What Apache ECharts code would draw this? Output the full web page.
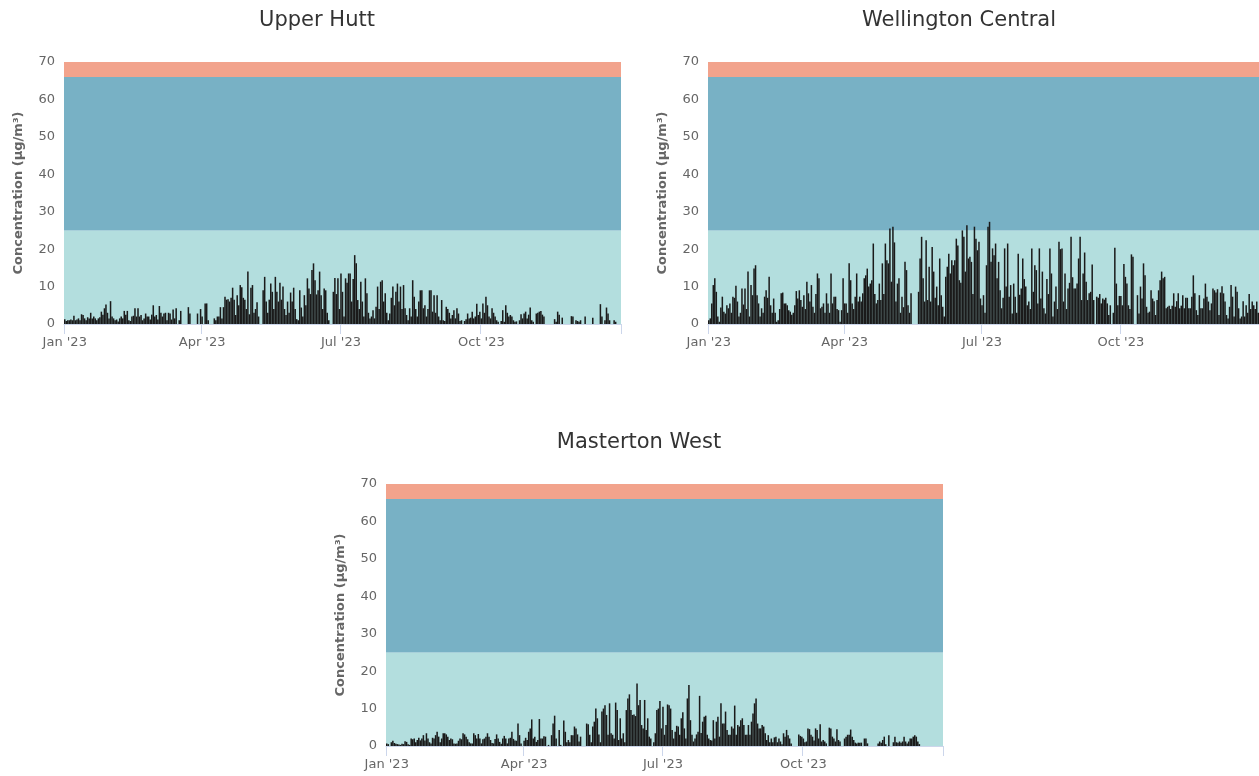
<!DOCTYPE html>
<html>
<head>
<meta charset="utf-8">
<script src="https://cdn.jsdelivr.net/npm/echarts@6/dist/echarts.min.js"></script>
<style>
html,body{margin:0;padding:0;background:#fff;}
#chart{width:1259px;height:776px;}
</style>
</head>
<body>
<div id="chart"></div>
<script>
// ---- Data (daily PM concentration, µg/m³, 2023) ----
const siteNames = ['Upper Hutt', 'Wellington Central', 'Masterton West'];
const yTicks = [0, 10, 20, 30, 40, 50, 60, 70];
const quarterLabels = { '2023-01-01': "Jan '23", '2023-04-01': "Apr '23", '2023-07-01': "Jul '23", '2023-10-01': "Oct '23" };
const bands = [
  { from: 0, to: 25, color: '#b3dede' },
  { from: 25, to: 66, color: '#78b1c5' },
  { from: 66, to: 70, color: '#f2a38c' }
];

const upperHutt = [
  // Jan
  1.3,0.8,1.0,1.0,1.2,1.0,2.2,1.0,1.2,1.5,1.0,2.6,2.4,1.5,1.0,1.8,1.5,3.0,1.5,2.0,1.5,1.0,1.5,1.8,3.3,2.5,4.2,5.2,3.0,1.5,6.1,
  // Feb
  2.0,1.5,1.0,1.2,0.7,1.5,2.0,1.5,3.5,2.5,3.5,1.0,0.8,2.0,2.2,4.2,2.0,4.2,2.0,2.4,1.0,1.5,2.8,2.0,2.0,1.2,2.5,5.0,
  // Mar
  2.0,2.4,1.2,4.8,3.0,2.0,2.8,3.0,1.0,3.0,2.8,1.2,3.9,1.5,4.2,null,1.0,3.5,null,null,null,null,4.5,2.8,null,null,null,null,2.8,null,4.0,
  // Apr
  2.0,null,5.5,5.5,1.0,null,null,null,1.5,1.0,2.0,2.0,4.5,1.5,4.5,7.3,6.5,6.6,6.0,7.0,9.7,6.5,2.4,7.7,5.0,10.4,9.8,7.0,6.5,4.0,
  // May
  14.0,2.6,9.7,10.4,3.0,4.0,5.8,2.0,null,null,9.0,12.6,6.0,3.0,6.5,10.8,8.6,4.0,12.6,8.6,6.0,11.0,6.5,10.0,4.0,2.4,6.0,3.0,8.4,6.0,9.7,
  // Jun
  4.0,1.3,1.0,9.0,4.4,2.0,7.7,5.0,12.2,9.5,8.0,14.4,16.2,11.7,7.9,9.0,14.0,7.7,4.0,9.5,9.0,3.0,1.0,null,null,8.6,12.3,8.0,12.2,4.0,
  // Jul
  13.5,8.6,2.0,12.2,11.0,13.5,13.5,6.0,12.0,18.4,16.2,6.4,4.0,11.3,6.0,2.0,12.2,8.2,3.0,1.5,2.0,3.7,1.5,4.6,10.0,4.0,11.3,11.7,6.0,8.2,3.0,
  // Aug
  1.0,2.8,7.0,10.0,5.0,8.6,10.8,6.0,10.0,4.0,10.4,4.2,2.4,1.0,4.2,2.0,11.7,7.3,4.0,2.0,6.0,9.0,9.0,4.2,5.0,2.0,4.0,9.0,9.0,3.3,7.7,
  // Sep
  3.0,7.7,2.0,1.0,6.4,1.0,0.8,4.6,4.0,3.0,1.5,2.4,3.7,1.5,4.2,2.8,0.8,1.0,null,0.8,1.3,2.8,1.5,1.7,3.3,1.5,2.0,5.4,2.4,3.3,
  // Oct
  1.5,5.5,3.0,7.3,5.0,2.0,1.5,4.2,3.0,2.0,1.0,0.6,null,0.8,3.7,0.6,5.0,3.0,2.0,2.4,2.0,1.0,0.6,0.7,null,1.0,2.6,1.5,2.8,3.3,1.5,
  // Nov
  2.5,4.4,1.0,0.6,null,2.8,3.0,3.3,3.5,2.5,2.0,null,null,null,null,null,null,1.3,0.6,3.3,2.5,null,1.7,null,null,null,null,null,2.1,2.0,
  // Dec
  null,1.0,0.8,0.6,1.0,null,null,2.0,null,null,null,null,1.7,null,null,null,null,5.3,2.0,null,1.0,4.4,2.8,1.0,null,null,1.0,0.6,null,null,null
];

const wellingtonCentral = [
  // Jan
  1.0,1.5,5.5,10.4,12.2,8.6,2.0,0.6,4.4,7.3,3.3,2.8,5.0,4.2,5.5,3.0,7.3,7.0,10.2,6.0,2.0,3.0,9.5,5.2,9.5,4.0,14.0,2.0,10.4,7.7,14.8,
  // Feb
  15.7,7.7,5.5,2.0,4.2,3.0,7.3,9.0,7.0,12.6,5.0,3.0,6.8,3.0,0.6,1.0,4.0,8.2,8.4,5.5,5.5,5.0,3.7,3.3,2.5,3.0,5.0,8.8,
  // Mar
  6.8,9.0,6.4,4.6,7.7,4.0,11.3,8.2,6.0,10.4,4.6,3.0,8.0,13.5,12.2,4.2,4.6,5.5,3.0,8.2,5.5,3.0,13.5,5.5,7.3,7.3,4.0,3.7,0.6,3.7,12.2,
  // Apr
  5.5,5.5,3.0,16.2,11.7,5.5,4.0,7.3,13.5,6.0,7.3,6.0,8.2,12.2,13.0,14.8,10.0,10.8,11.7,21.5,8.0,5.5,6.4,10.8,6.4,16.2,8.0,21.5,17.0,16.2,
  // May
  25.5,11.3,26.0,21.8,6.0,10.8,12.2,3.0,7.3,4.5,16.6,14.4,5.0,3.0,8.2,null,null,null,null,8.6,17.5,23.3,12.2,6.0,22.4,6.4,15.3,6.0,20.6,14.0,7.0,
  // Jun
  10.0,5.0,17.5,7.7,4.6,2.0,12.6,15.3,18.8,13.5,17.0,15.7,17.0,22.8,21.0,11.7,11.0,25.0,23.3,14.0,26.4,17.5,18.0,16.6,8.0,26.0,22.8,19.7,22.0,6.8,
  // Jul
  5.0,7.7,3.0,15.7,26.0,27.3,16.6,20.2,18.4,21.5,12.2,16.6,9.0,4.2,7.0,20.2,10.0,21.5,7.3,10.4,2.8,10.8,7.3,3.0,18.8,7.8,9.5,17.5,12.0,10.0,5.0,
  // Aug
  6.0,4.0,20.2,8.6,15.7,14.4,5.5,20.2,6.8,14.0,4.2,2.8,12.0,8.0,20.2,13.5,2.0,6.0,10.0,4.0,22.0,20.0,20.2,6.0,13.5,4.0,9.5,11.0,23.3,12.5,9.5,
  // Sep
  9.5,10.8,17.5,23.3,6.4,13.5,19.1,11.3,6.4,8.2,8.6,15.9,6.4,null,7.3,7.0,8.0,5.5,6.8,6.5,7.0,5.5,2.4,5.0,null,3.0,20.4,10.8,5.0,7.5,
  // Oct
  7.5,5.0,16.0,12.6,10.8,5.0,4.0,18.6,18.0,null,null,7.7,2.8,10.0,6.8,16.2,13.0,4.6,3.0,3.3,9.0,6.8,6.1,2.4,6.4,9.0,11.7,14.0,12.2,12.6,4.2,
  // Nov
  4.6,4.9,4.0,4.9,8.2,4.6,6.1,8.2,4.2,4.9,7.7,4.2,7.0,7.0,4.2,4.2,7.3,13.0,8.2,3.7,2.4,7.7,4.2,4.2,6.8,10.8,7.3,6.0,3.7,5.5,
  // Dec
  9.5,9.0,8.4,9.3,2.4,8.4,10.1,8.2,6.0,2.4,1.5,4.6,10.4,7.3,2.0,10.0,8.6,4.2,1.5,2.0,6.1,2.0,5.0,3.0,8.0,4.0,6.0,5.0,4.0,6.0,3.0
];

const mastertonWest = [
  // Jan
  0.7,0.5,null,1.0,1.4,0.8,0.6,0.5,0.4,0.3,0.6,0.5,1.3,1.1,0.5,0.3,2.0,1.8,2.0,1.0,1.6,2.2,1.5,2.0,2.9,1.5,3.4,2.0,1.0,0.7,2.2,
  // Feb
  2.0,2.9,3.8,2.5,1.0,2.0,3.4,3.4,3.1,2.5,1.6,2.0,1.8,0.7,0.6,0.7,1.4,2.0,1.8,3.4,3.1,2.5,1.8,1.0,0.7,0.7,3.4,2.9,
  // Mar
  2.0,3.2,2.0,0.7,1.8,2.0,2.5,3.4,2.5,1.6,0.8,0.7,1.9,3.1,2.0,1.1,0.6,2.0,2.7,2.0,0.7,2.0,2.2,3.8,1.9,1.5,1.4,6.0,2.9,0.7,null,
  // Apr
  1.4,2.2,1.6,3.8,4.7,7.1,2.0,2.5,1.1,1.6,7.2,2.0,2.0,2.6,2.5,null,0.3,null,2.9,6.0,8.1,2.0,null,4.3,0.3,null,6.8,3.8,1.0,1.6,
  // May
  1.0,2.9,2.9,5.2,4.7,3.1,1.2,2.5,null,null,null,6.0,5.8,3.0,1.0,5.2,6.5,10.0,7.4,3.1,1.0,9.2,10.0,10.9,8.3,3.0,11.4,3.4,3.0,2.0,11.6,
  // Jun
  9.6,1.6,7.4,2.0,3.4,1.0,9.6,12.7,13.8,9.6,8.3,8.4,8.0,16.7,10.9,12.3,5.6,4.7,12.3,4.3,7.4,2.5,2.0,null,1.0,3.4,9.6,10.0,12.0,4.7,
  // Jul
  10.5,3.0,5.6,11.1,10.9,10.0,4.3,2.0,3.8,5.4,5.2,3.0,7.4,9.0,4.7,2.0,12.7,16.3,6.9,3.0,1.2,2.0,3.1,3.8,13.4,3.5,6.5,7.8,8.1,3.0,2.0,
  // Aug
  1.6,1.5,6.9,2.0,6.5,7.8,2.5,11.4,6.0,6.0,9.2,4.3,3.0,3.0,5.2,4.7,10.8,3.0,5.6,5.2,6.9,7.4,5.6,3.0,3.0,5.6,3.0,6.5,8.7,11.4,12.7,
  // Sep
  6.0,4.7,4.7,5.6,5.2,3.4,1.6,2.9,1.0,2.0,1.0,2.3,2.5,1.0,2.0,1.2,0.5,3.4,2.5,4.3,2.9,2.0,0.7,null,null,null,null,3.1,2.7,2.5,
  // Oct
  2.0,1.0,1.2,4.7,4.5,3.0,2.5,1.5,4.7,4.3,2.0,5.8,1.2,1.6,1.2,0.7,null,4.9,4.7,2.5,2.0,1.2,4.5,1.6,1.2,null,null,2.0,2.5,3.0,3.0,
  // Nov
  4.4,2.5,1.6,0.9,0.7,0.9,0.9,0.9,null,2.0,2.0,0.7,null,null,null,null,null,null,0.7,1.2,0.9,1.6,2.5,0.5,null,2.9,null,null,1.0,2.5,
  // Dec
  1.0,0.9,1.2,0.9,1.2,2.5,1.2,0.7,1.2,2.0,2.0,2.5,2.9,2.5,1.2,0.5,null,null,null,null,null,null,null,null,null,null,null,null,null,null,null
];

// category list: every day of 2023
const days = [];
for (let i = 0; i < 365; i++) {
  const d = new Date(Date.UTC(2023, 0, 1 + i));
  days.push(d.toISOString().slice(0, 10));
}

const seriesData = [upperHutt, wellingtonCentral, mastertonWest];

// ---- Layout ----
const FONT = 'DejaVu Sans';
const panels = [
  { left: 64, top: 62, titleX: 312, titleTop: 5 },
  { left: 708, top: 62, titleX: 954, titleTop: 5 },
  { left: 386, top: 484, titleX: 634, titleTop: 427 }
];
const PW = 557, PH = 262;

const chart = echarts.init(document.getElementById('chart'), null, { renderer: 'canvas' });

const option = {
  animation: false,
  backgroundColor: '#ffffff',
  title: panels.map((p, i) => ({
    text: siteNames[i],
    left: p.titleX,
    top: p.titleTop,
    textAlign: 'center',
    textStyle: { fontFamily: FONT, fontSize: 21, fontWeight: 'normal', color: '#333333' }
  })),
  grid: panels.map(p => ({ left: p.left, top: p.top, width: PW, height: PH, containLabel: false })),
  xAxis: panels.map((p, i) => ({
    type: 'category',
    gridIndex: i,
    data: days,
    boundaryGap: true,
    axisLine: { show: true, lineStyle: { color: '#ccd6eb', width: 1 } },
    axisTick: {
      show: true,
      length: 10,
      lineStyle: { color: '#ccd6eb' },
      interval: (idx, val) => quarterLabels[val] !== undefined
    },
    axisLabel: {
      interval: (idx, val) => quarterLabels[val] !== undefined,
      formatter: v => quarterLabels[v] || '',
      color: '#666666',
      fontFamily: FONT,
      fontSize: 13,
      margin: 12
    },
    splitLine: { show: false }
  })),
  yAxis: panels.map((p, i) => ({
    type: 'value',
    gridIndex: i,
    min: yTicks[0],
    max: yTicks[yTicks.length - 1],
    interval: 10,
    axisLine: { show: false },
    axisTick: { show: false },
    splitLine: { show: false },
    axisLabel: { color: '#666666', fontFamily: FONT, fontSize: 13, margin: 9 },
    name: 'Concentration (µg/m³)',
    nameLocation: 'middle',
    nameRotate: 90,
    nameGap: 39,
    nameTextStyle: { color: '#666666', fontFamily: FONT, fontSize: 13, fontWeight: 'bold' }
  })),
  series: seriesData.map((data, i) => ({
    type: 'bar',
    name: siteNames[i],
    xAxisIndex: i,
    yAxisIndex: i,
    data: data,
    barWidth: '100%',
    itemStyle: { color: '#1a1a1a' },
    silent: true,
    z: 2,
    markArea: {
      silent: true,
      z: 1,
      itemStyle: { borderWidth: 0 },
      label: { show: false },
      data: bands.map(b => [
        { yAxis: b.from, itemStyle: { color: b.color, opacity: 1 } },
        { yAxis: b.to }
      ])
    }
  }))
};

chart.setOption(option);
</script>
</body>
</html>
